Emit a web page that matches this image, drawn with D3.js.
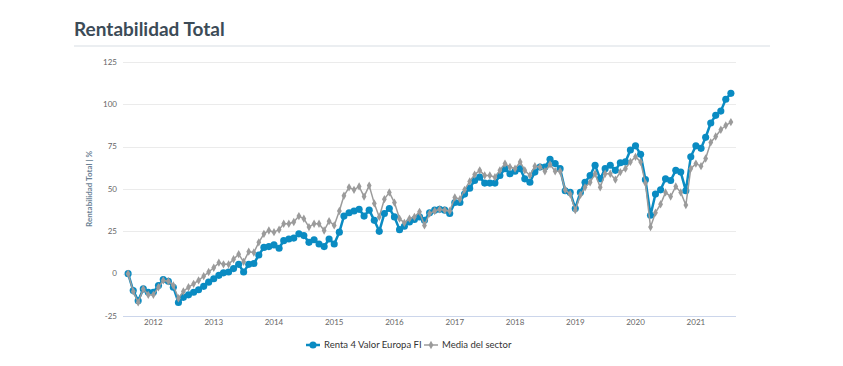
<!DOCTYPE html>
<html>
<head>
<meta charset="utf-8">
<script src="https://cdn.jsdelivr.net/npm/d3@7"></script>
<style>
  body { margin: 0; background: #fff; }
  svg { display: block; font-family: "Lato", "Open Sans", sans-serif; }
</style>
</head>
<body>
<div id="chart"></div>
<script>
// Monthly series, Aug 2011 .. Aug 2021 (one value per month)
const firstMonth = new Date(2011, 7, 1);
const fundValues = [
  0, -10, -16, -9, -11,
  -11, -7, -3.5, -4.5, -8, -17, -14, -12.5, -11, -9.5, -7.5, -5,
  -3, -1, 0.5, 1, 3, 5.5, 1, 5.5, 6, 11, 15.5, 16,
  17, 15, 19.5, 20.5, 21, 23.5, 22.5, 18.5, 20, 17.5, 16, 20.5,
  17.5, 24.5, 34, 36, 37, 38, 34, 37.5, 31.5, 25, 35.5, 38.5,
  33.5, 26, 28, 30.5, 32, 33.5, 31.5, 36, 37.5, 38, 37.5, 35.5,
  42, 42, 47, 50.5, 55, 57, 53.5, 53.5, 53.5, 58, 62, 59,
  60.5, 62, 56, 54, 60, 63, 63, 67.5, 65, 62, 49, 48,
  38.5, 48, 54, 58, 64, 56, 62, 64, 61, 65.5, 66, 73,
  75.5, 70.5, 55.5, 34.5, 47, 49.5, 56, 55, 61, 60, 49, 69,
  75.5, 74, 80.5, 89, 93.5, 96, 103, 106.5
];
const sectorValues = [
  0, -10.5, -17, -9, -12.5,
  -12.5, -8, -4, -4.5, -7, -14.5, -10.5, -8, -6, -4, -1.5, 1,
  3.5, 6.5, 5.5, 5.5, 8.5, 11.5, 7, 13, 12.5, 18.5, 23.5, 25.5,
  24.5, 26, 29.5, 29.5, 30.5, 34, 32.5, 27.5, 29.5, 29.5, 25.5, 31,
  28.5, 37, 46, 51, 49.5, 51.5, 45.5, 52, 41.5, 33.5, 44, 48,
  42, 32.5, 30, 32.5, 33.5, 36.5, 28.5, 35.5, 37, 38, 37.5, 37,
  45, 44, 49.5, 54.5, 58.5, 61, 58, 58, 57, 61, 65, 63,
  62, 66, 61, 58, 63.5, 63, 60.5, 64.5, 60.5, 60.5, 49.5, 47,
  37.5, 46.5, 51, 54, 59, 51, 59, 59, 55.5, 60, 62, 66,
  69, 66, 53.5, 27.5, 36, 41, 48, 45.5, 51.5, 48, 40.5, 62,
  65, 63.5, 68, 77.5, 81, 85, 87.5, 89.5
];
const seriesNames = ["Renta 4 Valor Europa FI", "Media del sector"];
const yearTicks = [2012, 2013, 2014, 2015, 2016, 2017, 2018, 2019, 2020, 2021];
const yTicks = [-25, 0, 25, 50, 75, 100, 125];

const width = 843, height = 366;
const plot = { left: 123, right: 736, top: 62, bottom: 316 };
const fundColor = "#0a8bc2";
const sectorColor = "#9b9b9b";

const months = fundValues.map((_, i) => d3.timeMonth.offset(firstMonth, i));

const svg = d3.select("#chart").append("svg")
  .attr("width", width)
  .attr("height", height);

svg.append("rect").attr("width", width).attr("height", height).attr("fill", "#fff");

// Title + rule
svg.append("text")
  .attr("x", 74).attr("y", 36)
  .attr("font-size", 19).attr("font-weight", 700)
  .attr("fill", "#3c4b57")
  .text("Rentabilidad Total");

svg.append("line")
  .attr("x1", 74).attr("x2", 770)
  .attr("y1", 46).attr("y2", 46)
  .attr("stroke", "#e4e8ec").attr("stroke-width", 1.5);

const x = d3.scaleTime()
  .domain([new Date(2011, 6, 1), new Date(2021, 8, 1)])
  .range([plot.left, plot.right]);

const y = d3.scaleLinear()
  .domain([-25, 125])
  .range([plot.bottom, plot.top]);

// Horizontal gridlines
svg.append("g")
  .selectAll("line")
  .data(yTicks)
  .join("line")
  .attr("x1", plot.left).attr("x2", plot.right)
  .attr("y1", d => Math.round(y(d)) + 0.5)
  .attr("y2", d => Math.round(y(d)) + 0.5)
  .attr("stroke", d => d === -25 ? "#ccd6eb" : "#ebebeb")
  .attr("stroke-width", 1);

// Y tick labels
svg.append("g")
  .selectAll("text")
  .data(yTicks)
  .join("text")
  .attr("x", plot.left - 6)
  .attr("y", d => y(d))
  .attr("dy", "0.35em")
  .attr("text-anchor", "end")
  .attr("font-size", 8)
  .attr("fill", "#666")
  .text(d => d);

// X tick labels
svg.append("g")
  .selectAll("text")
  .data(yearTicks)
  .join("text")
  .attr("x", d => x(new Date(d, 0, 1)))
  .attr("y", plot.bottom + 9)
  .attr("text-anchor", "middle")
  .attr("font-size", 8)
  .attr("fill", "#666")
  .text(d => d);

// Y axis title
svg.append("text")
  .attr("transform", `translate(92,${(plot.top + plot.bottom) / 2}) rotate(-90)`)
  .attr("text-anchor", "middle")
  .attr("font-size", 8)
  .attr("font-weight", 700)
  .attr("fill", "#6a8194")
  .text("Rentabilidad Total | %");

const line = d3.line()
  .x((d, i) => x(months[i]))
  .y(d => y(d));

function drawSeries(values, color, lineWidth, symbol, size) {
  const g = svg.append("g");
  g.append("path")
    .datum(values)
    .attr("d", line)
    .attr("fill", "none")
    .attr("stroke", color)
    .attr("stroke-width", lineWidth)
    .attr("stroke-linejoin", "round");
  g.selectAll("path.pt")
    .data(values)
    .join("path")
    .attr("class", "pt")
    .attr("transform", (d, i) => `translate(${x(months[i])},${y(d)})`)
    .attr("d", d3.symbol().type(symbol).size(size))
    .attr("fill", color);
}

drawSeries(fundValues, fundColor, 2.5, d3.symbolCircle, 40);
drawSeries(sectorValues, sectorColor, 1.5, d3.symbolDiamond, 20);

// Legend
const legend = svg.append("g").attr("transform", "translate(0,345)");
const legendItems = [
  { name: seriesNames[0], color: fundColor, sym: d3.symbolCircle, size: 40, w: 2.5, x: 306 },
  { name: seriesNames[1], color: sectorColor, sym: d3.symbolDiamond, size: 20, w: 1.5, x: 424 }
];
legendItems.forEach(it => {
  legend.append("line")
    .attr("x1", it.x).attr("x2", it.x + 14)
    .attr("stroke", it.color).attr("stroke-width", it.w);
  legend.append("path")
    .attr("transform", `translate(${it.x + 7},0)`)
    .attr("d", d3.symbol().type(it.sym).size(it.size))
    .attr("fill", it.color);
  legend.append("text")
    .attr("x", it.x + 18)
    .attr("dy", "0.35em")
    .attr("font-size", 9.5)
    .attr("fill", "#333")
    .text(it.name);
});
</script>
</body>
</html>
